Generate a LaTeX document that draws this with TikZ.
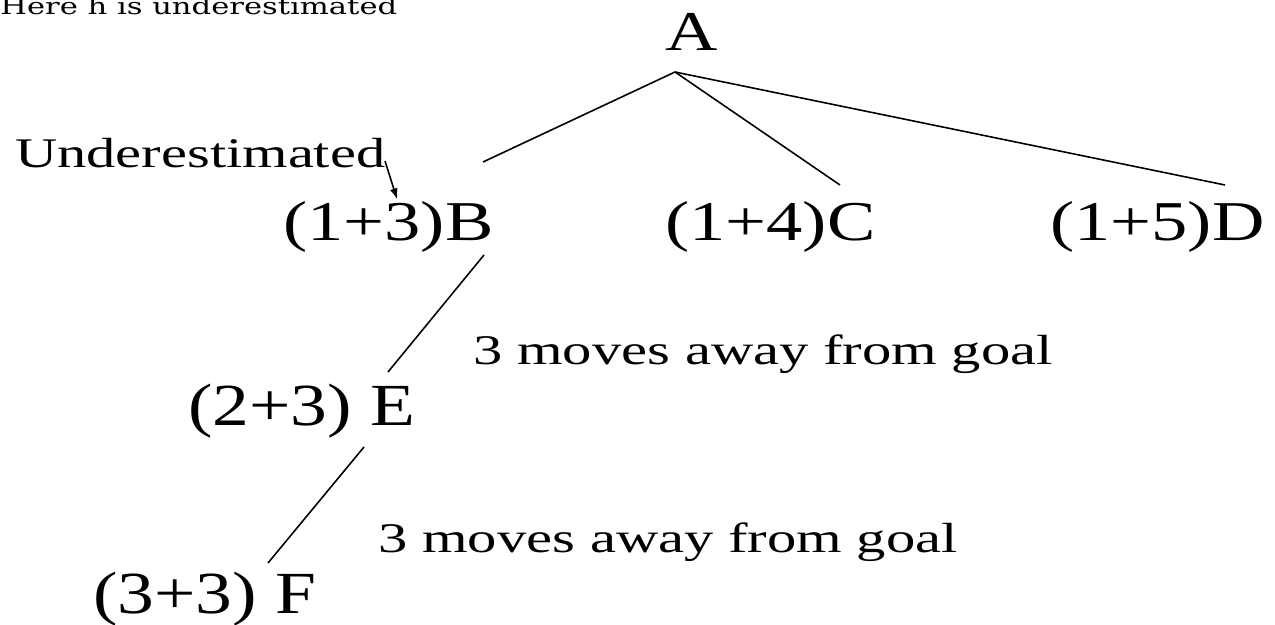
\documentclass[tikz,border=0pt]{standalone}
\usepackage{fontspec}
\usetikzlibrary{arrows.meta}
\setmainfont{Liberation Serif}
\newfontfamily\notefont{DejaVu Serif}
\newcommand{\widetxt}[2]{\scalebox{#1}[1]{#2}}
\begin{document}
\begin{tikzpicture}[x=0.02cm,y=-0.02cm,
  big/.style={anchor=base west,inner sep=0pt,font=\fontsize{32}{38}\selectfont},
  bigger/.style={anchor=base west,inner sep=0pt,font=\fontsize{34}{40}\selectfont},
  mid/.style={anchor=base west,inner sep=0pt,font=\fontsize{24}{29}\selectfont},
  edge/.style={line width=0.9pt}]
\useasboundingbox (0,0) rectangle (1275,625);
\node[anchor=base west,inner sep=0pt,font=\notefont\fontsize{13}{15}\selectfont] (note) at (0,15) {\widetxt{1.34}{Here h is underestimated}};
\node[big] (A) at (665,51) {\widetxt{1.29}{A}};
\node[big] (B) at (283,240) {\widetxt{1.29}{(1+3)B}};
\node[big] (C) at (665,240) {\widetxt{1.29}{(1+4)C}};
\node[big] (D) at (1050,240) {\widetxt{1.29}{(1+5)D}};
\node[bigger] (E) at (188,425) {\widetxt{1.23}{(2+3) E}};
\node[bigger] (F) at (93,613) {\widetxt{1.23}{(3+3) F}};
\node[mid] (U) at (15,168) {\widetxt{1.386}{Underestimated}};
\node[mid] (m1) at (473,364) {\widetxt{1.39}{3 moves away from goal}};
\node[mid] (m2) at (378,552) {\widetxt{1.39}{3 moves away from goal}};
\coordinate (As) at (675,72);
\coordinate (Bn) at (483,162);
\coordinate (Cn) at (840,185);
\coordinate (Dn) at (1225,185);
\coordinate (Bs) at (484,255);
\coordinate (En) at (388,372);
\coordinate (Es) at (364,447);
\coordinate (Fn) at (268,563);
\coordinate (Ue) at (385,161);
\coordinate (B3) at (397,199);
\draw[edge] (As) -- (Bn);
\draw[edge] (As) -- (Cn);
\draw[edge] (As) -- (Dn);
\draw[edge] (Bs) -- (En);
\draw[edge] (Es) -- (Fn);
\draw[edge,-{Latex[length=6pt,width=4.5pt]}] (Ue) -- (B3);
\end{tikzpicture}
\end{document}
